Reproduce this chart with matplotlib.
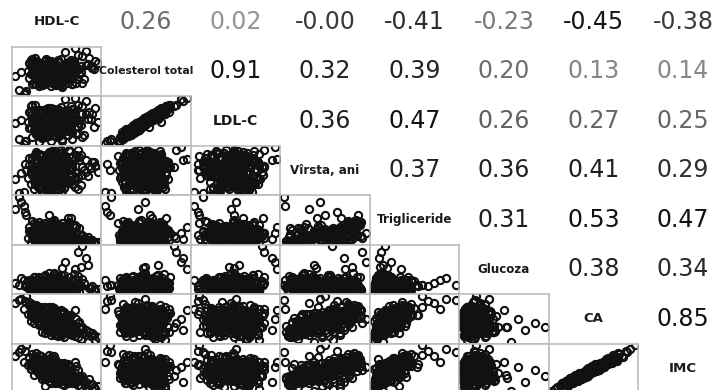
# Scatterplot matrix: lower panels show scatter, upper panels the correlation coefficients.

import matplotlib
matplotlib.use('Agg')
import matplotlib.pyplot as plt

# Variable names (diagonal)
labels = ['HDL-C', 'Colesterol total', 'LDL-C', 'Vîrsta, ani',
          'Trigliceride', 'Glucoza', 'CA', 'IMC']

# Subject values, one list per variable
hdl = [48, 55, 41, 62, 50, 37, 58, 45, 53, 67, 43, 51, 39, 60, 47, 56, 34, 52, 64, 46,
       49, 42, 57, 38, 54, 61, 44, 50, 72, 40, 53, 47, 59, 36, 51, 45, 63, 48, 41, 55,
       52, 46, 39, 58, 44, 66, 50, 35, 54, 48, 43, 60, 49, 57, 38, 53, 45, 70, 42, 51,
       47, 56, 40, 62, 49, 44, 55, 37, 52, 68, 46, 41, 58, 50, 33, 54, 48, 61, 43, 57,
       45, 51, 59, 39, 65, 47, 53, 42, 56, 48, 36, 60, 44, 50, 74, 41, 55, 46, 52, 63,
       38, 49, 57, 43, 51, 46, 69, 40, 54, 47, 58, 35, 52, 45, 61, 49, 42, 56, 48, 53,
       82, 79, 76, 70, 77, 24, 28, 31, 74, 64, 30, 80, 68, 27, 75, 66, 71, 32, 78, 59,
       53, 44, 59, 48, 37, 62, 51, 46, 56, 40, 66, 49, 43, 57, 52, 35, 61, 47, 54, 45,
       50, 58, 42, 64, 47, 39, 55, 52, 45, 69, 41, 53, 60, 46, 36, 57, 50, 43, 63, 48,
       56, 41, 49, 65, 44, 53, 38, 59, 47, 51, 62, 45, 34, 55, 48, 67, 43, 52, 58, 40,
       46, 60, 52, 39, 57, 48, 71, 44, 54, 42, 50, 63, 37, 56, 45, 53, 61, 49, 41, 58,
       42, 55, 47, 61, 36, 50, 58, 45, 64, 52, 40, 57, 48, 54, 66, 43, 51, 38, 59, 46,
       59, 47, 53, 41, 68, 50, 44, 56, 39, 62, 48, 54, 45, 60, 35, 52, 57, 42, 49, 64]
chol = [196, 231, 178, 205, 248, 214, 187, 260, 222, 170, 239, 201, 226, 183, 255, 209, 192, 244, 165, 218,
        236, 190, 212, 271, 174, 228, 203, 249, 185, 219, 160, 242, 198, 230, 207, 181, 263, 216, 194, 225,
        210, 247, 168, 233, 199, 222, 186, 258, 213, 176, 240, 204, 229, 155, 251, 189, 217, 237, 172, 206,
        224, 182, 253, 197, 215, 241, 163, 232, 208, 188, 266, 201, 179, 246, 220, 193, 227, 170, 238, 211,
        202, 244, 184, 219, 257, 175, 234, 196, 212, 250, 167, 229, 191, 221, 243, 180, 209, 262, 200, 226,
        188, 235, 214, 169, 248, 205, 227, 178, 256, 198, 218, 240, 183, 211, 231, 159, 245, 203, 223, 192,
        250, 225, 270, 215, 240, 200, 215, 130, 300, 235, 125, 260, 285, 140, 245, 310, 280, 138, 230, 295,
        223, 187, 241, 205, 172, 256, 198, 214, 235, 181, 247, 209, 164, 228, 193, 262, 217, 176, 239, 202,
        185, 230, 211, 167, 252, 196, 226, 180, 244, 207, 158, 234, 219, 190, 268, 203, 174, 248, 215, 188,
        240, 199, 173, 227, 212, 184, 258, 201, 233, 166, 220, 195, 249, 178, 213, 236, 161, 206, 245, 191,
        208, 251, 179, 222, 194, 238, 171, 216, 264, 186, 229, 200, 243, 169, 211, 232, 192, 254, 177, 218,
        197, 225, 246, 182, 210, 170, 237, 204, 255, 189, 221, 163, 242, 199, 231, 175, 214, 260, 195, 227,
        233, 176, 212, 250, 188, 224, 203, 266, 181, 217, 196, 240, 168, 228, 207, 245, 184, 219, 257, 193]
ldl = [126, 149, 114, 128, 160, 154, 114, 169, 154, 95, 155, 139, 147, 112, 169, 143, 118, 154, 102, 138,
       158, 125, 125, 199, 113, 145, 127, 180, 93, 152, 86, 157, 135, 151, 137, 93, 197, 135, 121, 149,
       142, 163, 96, 171, 109, 147, 120, 178, 142, 89, 176, 126, 160, 72, 178, 128, 131, 167, 95, 141,
       143, 115, 179, 108, 152, 164, 93, 147, 136, 122, 187, 110, 115, 171, 138, 124, 140, 108, 162, 140,
       129, 158, 119, 139, 187, 99, 146, 134, 134, 182, 84, 158, 101, 157, 169, 95, 142, 183, 128, 142,
       122, 156, 143, 84, 185, 131, 145, 109, 179, 110, 157, 165, 116, 131, 159, 73, 181, 125, 153, 109,
       140, 120, 175, 130, 150, 135, 145, 70, 215, 155, 62, 190, 200, 80, 150, 225, 196, 72, 168, 222,
       151, 122, 157, 128, 111, 166, 128, 135, 167, 95, 173, 146, 83, 153, 105, 195, 134, 105, 161, 138,
       105, 161, 135, 80, 190, 123, 141, 114, 165, 136, 69, 170, 144, 108, 200, 112, 111, 171, 145, 104,
       173, 116, 99, 165, 124, 113, 180, 136, 147, 93, 140, 126, 173, 88, 149, 155, 89, 121, 179, 112,
       133, 183, 92, 159, 115, 168, 87, 150, 187, 95, 167, 127, 162, 100, 125, 168, 114, 182, 88, 151,
       127, 143, 180, 94, 136, 109, 158, 119, 187, 113, 158, 80, 171, 112, 166, 97, 141, 180, 133, 141,
       149, 109, 137, 179, 99, 161, 123, 192, 95, 148, 119, 175, 86, 156, 117, 179, 105, 146, 189, 108]
varsta = [45, 63, 31, 52, 70, 38, 57, 26, 66, 48, 35, 74, 42, 59, 29, 54, 68, 40, 61, 33,
          50, 72, 37, 56, 24, 65, 44, 78, 53, 30, 62, 47, 39, 69, 55, 27, 46, 73, 58, 36,
          67, 41, 55, 28, 60, 49, 76, 34, 51, 64, 23, 57, 43, 71, 38, 62, 46, 32, 58, 75,
          39, 54, 66, 47, 25, 60, 36, 71, 50, 43, 63, 30, 56, 68, 41, 52, 77, 35, 59, 45,
          61, 33, 48, 74, 40, 57, 27, 64, 44, 53, 69, 37, 58, 31, 50, 72, 42, 65, 29, 55,
          47, 70, 35, 59, 52, 26, 66, 44, 38, 61, 73, 49, 32, 56, 64, 41, 54, 79, 36, 60,
          50, 63, 58, 72, 55, 40, 48, 61, 66, 70, 22, 58, 80, 21, 44, 67, 57, 52, 63, 83,
          58, 34, 71, 46, 27, 63, 52, 39, 75, 44, 30, 67, 55, 41, 78, 49, 36, 60, 25, 69,
          43, 65, 32, 56, 74, 38, 61, 47, 28, 70, 53, 35, 66, 42, 58, 24, 76, 50, 37, 62,
          29, 54, 72, 40, 64, 48, 33, 68, 57, 45, 79, 31, 59, 51, 26, 73, 44, 61, 36, 55,
          66, 41, 53, 77, 35, 58, 46, 23, 62, 50, 71, 39, 56, 30, 68, 47, 59, 34, 74, 43,
          52, 76, 38, 60, 45, 28, 67, 54, 33, 70, 48, 63, 25, 57, 42, 73, 36, 65, 51, 31,
          37, 61, 49, 72, 26, 56, 64, 40, 53, 78, 32, 58, 45, 69, 50, 35, 75, 43, 60, 47]
trig = [110, 145, 82, 175, 230, 96, 128, 190, 74, 155, 120, 260, 102, 168, 88, 138, 205, 115, 92, 182,
        125, 210, 98, 152, 68, 185, 134, 245, 106, 160, 79, 118, 198, 142, 90, 172, 285, 112, 148, 86,
        195, 104, 163, 76, 140, 222, 118, 170, 93, 131, 72, 178, 150, 240, 100, 136, 188, 80, 158, 270,
        122, 166, 87, 201, 64, 147, 113, 236, 129, 97, 173, 84, 159, 218, 107, 143, 310, 95, 180, 133,
        154, 78, 124, 208, 101, 186, 70, 139, 165, 116, 255, 89, 192, 127, 84, 226, 108, 176, 99, 144,
        213, 120, 149, 91, 187, 135, 81, 171, 228, 109, 157, 66, 196, 126, 290, 94, 168, 119, 203, 141,
        70, 60, 85, 95, 75, 370, 430, 340, 90, 80, 400, 65, 100, 480, 110, 200, 120, 310, 85, 150,
        132, 98, 176, 118, 84, 204, 145, 107, 189, 126, 73, 162, 139, 95, 221, 151, 88, 171, 112, 243,
        117, 184, 91, 158, 226, 103, 167, 136, 78, 197, 128, 99, 179, 114, 153, 71, 238, 142, 96, 173,
        86, 149, 214, 121, 168, 133, 94, 191, 156, 111, 252, 82, 163, 137, 69, 206, 124, 177, 101, 146,
        181, 109, 141, 233, 92, 160, 127, 75, 172, 143, 219, 105, 154, 88, 199, 131, 165, 97, 246, 119,
        140, 216, 102, 174, 123, 80, 186, 150, 90, 208, 134, 169, 77, 157, 115, 229, 100, 183, 138, 87,
        106, 166, 144, 224, 74, 152, 193, 113, 129, 237, 93, 161, 120, 200, 135, 83, 211, 116, 178, 148]
glucoza = [88, 104, 97, 83, 112, 91, 86, 99, 118, 94, 81, 107, 92, 101, 87, 125, 95, 89, 110, 84,
           100, 86, 93, 121, 82, 96, 108, 90, 103, 85, 116, 98, 80, 94, 111, 87, 99, 129, 92, 105,
           91, 113, 84, 98, 102, 88, 120, 95, 81, 106, 93, 87, 114, 99, 85, 101, 90, 97, 83, 109,
           104, 89, 117, 92, 86, 100, 83, 107, 94, 122, 88, 96, 101, 84, 91, 110, 98, 86, 93, 143,
           85, 98, 90, 106, 127, 93, 87, 102, 96, 81, 113, 89, 95, 104, 82, 99, 119, 91, 100, 88,
           97, 83, 108, 94, 89, 115, 101, 86, 92, 104, 80, 99, 87, 124, 95, 90, 103, 85, 111, 96,
           88, 85, 92, 145, 90, 105, 118, 96, 170, 94, 112, 86, 185, 98, 150, 140, 200, 100, 96, 160,
           93, 107, 85, 100, 119, 90, 97, 82, 104, 88, 114, 95, 86, 101, 91, 109, 84, 98, 123, 89,
           102, 87, 95, 113, 84, 99, 91, 106, 80, 96, 88, 117, 93, 85, 104, 97, 90, 110, 83, 100,
           89, 121, 94, 86, 103, 98, 81, 108, 92, 100, 85, 96, 112, 88, 105, 83, 99, 91, 126, 94,
           96, 84, 110, 91, 99, 87, 115, 93, 82, 105, 90, 101, 86, 97, 120, 89, 94, 107, 85, 102,
           108, 92, 86, 101, 95, 118, 84, 98, 90, 106, 83, 113, 97, 88, 100, 93, 131, 87, 104, 91,
           86, 99, 105, 90, 112, 84, 96, 102, 88, 119, 93, 81, 107, 95, 89, 124, 98, 92, 83, 109]
ca = [97, 82, 90, 98, 100, 103, 82, 76, 97, 78, 102, 103, 100, 78, 97, 86, 119, 74, 89, 92,
      88, 112, 79, 104, 72, 95, 99, 110, 76, 93, 87, 96, 90, 114, 85, 92, 101, 100, 106, 80,
      103, 89, 108, 71, 101, 86, 105, 100, 84, 98, 78, 94, 91, 107, 95, 93, 97, 68, 109, 111,
      90, 92, 106, 88, 74, 102, 83, 113, 91, 77, 104, 87, 94, 105, 102, 89, 112, 79, 107, 85,
      101, 80, 87, 115, 79, 99, 75, 104, 90, 93, 116, 81, 103, 84, 73, 111, 86, 100, 82, 89,
      112, 98, 76, 100, 96, 80, 84, 104, 90, 97, 106, 93, 85, 95, 101, 78, 103, 108, 87, 94,
      70, 74, 78, 85, 72, 118, 124, 121, 80, 88, 110, 66, 90, 122, 64, 108, 84, 128, 76, 96,
      96, 88, 99, 92, 90, 94, 95, 87, 104, 97, 72, 103, 100, 84, 108, 101, 76, 99, 78, 112,
      89, 98, 91, 86, 109, 96, 97, 90, 83, 92, 102, 79, 94, 93, 110, 74, 113, 95, 75, 100,
      77, 103, 106, 80, 107, 90, 98, 93, 101, 88, 100, 89, 115, 91, 79, 95, 99, 96, 78, 108,
      105, 82, 93, 114, 81, 99, 76, 86, 97, 100, 104, 79, 108, 80, 107, 91, 92, 87, 111, 83,
      102, 97, 90, 91, 104, 81, 94, 98, 73, 101, 100, 95, 82, 92, 78, 109, 85, 112, 86, 89,
      80, 99, 92, 110, 71, 94, 103, 85, 101, 97, 87, 93, 96, 95, 106, 84, 102, 98, 91, 82]
imc = [29.8, 23.1, 26.9, 27.4, 30.5, 30.1, 25.6, 21.0, 28.8, 24.1, 28.8, 31.0, 28.7, 22.8, 30.4, 24.7, 33.8, 22.2, 25.9, 28.0,
       25.1, 34.3, 23.4, 29.5, 22.3, 27.4, 30.1, 31.2, 22.4, 27.2, 26.8, 27.4, 27.1, 32.1, 25.1, 28.6, 29.4, 30.4, 30.4, 23.8,
       31.3, 24.8, 32.2, 21.5, 29.0, 26.7, 30.6, 30.2, 22.9, 29.2, 23.9, 27.4, 27.5, 30.6, 29.7, 26.6, 29.0, 20.5, 30.9, 34.0,
       26.8, 26.0, 32.7, 25.5, 22.2, 28.6, 25.3, 32.9, 26.9, 24.0, 29.8, 26.0, 26.4, 31.8, 30.2, 25.7, 34.6, 22.2, 32.0, 25.9,
       28.7, 24.0, 25.1, 35.4, 23.5, 28.3, 23.3, 29.4, 27.2, 27.1, 35.1, 24.7, 29.7, 24.8, 20.6, 34.6, 23.8, 29.8, 24.8, 25.5,
       33.8, 27.7, 23.1, 29.9, 27.5, 24.7, 24.2, 31.6, 24.9, 29.1, 30.8, 28.5, 25.0, 27.0, 30.5, 24.3, 30.0, 30.9, 26.3, 27.4,
       20.7, 20.6, 23.8, 24.5, 21.7, 33.9, 37.0, 36.5, 22.8, 26.0, 31.6, 19.7, 27.9, 36.0, 18.6, 31.4, 25.3, 38.8, 21.8, 29.3,
       29.1, 24.6, 29.5, 28.5, 25.8, 26.6, 29.1, 25.9, 29.3, 29.2, 22.1, 29.6, 29.8, 24.2, 32.9, 28.2, 23.1, 28.7, 24.4, 32.5,
       25.7, 30.1, 25.6, 25.9, 31.4, 29.9, 28.4, 26.9, 25.5, 25.5, 30.2, 23.9, 26.9, 28.7, 31.4, 21.7, 34.1, 27.0, 22.9, 29.3,
       23.4, 29.8, 31.8, 22.0, 33.2, 26.2, 28.0, 28.0, 31.0, 24.4, 29.9, 27.2, 33.4, 27.2, 22.9, 29.6, 28.1, 29.1, 23.3, 31.0,
       30.6, 24.8, 28.7, 32.6, 23.8, 28.5, 23.4, 24.8, 29.4, 28.1, 31.3, 24.0, 31.1, 25.0, 31.4, 27.1, 25.9, 26.7, 32.3, 24.3,
       30.8, 27.3, 26.9, 27.8, 29.9, 25.0, 27.4, 27.9, 22.0, 30.1, 28.0, 28.6, 25.1, 26.5, 23.1, 31.4, 26.4, 32.8, 24.1, 26.9,
       24.6, 28.5, 27.2, 31.6, 21.3, 29.1, 29.2, 25.3, 29.3, 29.7, 24.6, 27.9, 26.9, 28.9, 31.2, 25.7, 29.5, 29.2, 28.3, 23.1]
columns = [hdl, chol, ldl, varsta, trig, glucoza, ca, imc]

# Correlation coefficients printed in the upper panels (row i, columns i+1..)
corr = [
    [0.26, 0.02, -0.0, -0.41, -0.23, -0.45, -0.38],
    [0.91, 0.32, 0.39, 0.20, 0.13, 0.14],
    [0.36, 0.47, 0.26, 0.27, 0.25],
    [0.37, 0.36, 0.41, 0.29],
    [0.31, 0.53, 0.47],
    [0.38, 0.34],
    [0.85],
]

# text shade of each coefficient (style only)
shade = [
    ['#6a6a6a', '#959595', '#3a3a3a', '#2e2e2e', '#7a7a7a', '#151515', '#3c3c3c'],
    ['#111111', '#222222', '#222222', '#6e6e6e', '#858585', '#888888'],
    ['#1e1e1e', '#111111', '#606060', '#666666', '#666666'],
    ['#222222', '#222222', '#1e1e1e', '#2e2e2e'],
    ['#1e1e1e', '#111111', '#111111'],
    ['#222222', '#2a2a2a'],
    ['#111111'],
]
label_sizes = [9.6, 7.8, 10, 8.6, 8.6, 8.6, 9.5, 9.6]

W, H = 718, 390
cell_w, cell_h = 89.5, 49.5
x0, y0 = 11.7, -3.0

fig = plt.figure(figsize=(W / 100, H / 100), dpi=100)
n = len(labels)


def padded(v):
    lo, hi = min(v), max(v)
    pad = 0.04 * (hi - lo)
    return lo - pad, hi + pad


for i in range(n):
    for j in range(n):
        left = (x0 + j * cell_w) / W
        bottom = 1 - (y0 + (i + 1) * cell_h) / H
        ax = fig.add_axes([left, bottom, cell_w / W, cell_h / H])
        ax.set_xticks([])
        ax.set_yticks([])
        if i > j:
            ax.plot(columns[j], columns[i], linestyle='none', marker='o',
                    markersize=5.2, markerfacecolor='none',
                    markeredgecolor='#111111', markeredgewidth=1.5)
            ax.set_xlim(padded(columns[j]))
            ax.set_ylim(padded(columns[i]))
            for s in ax.spines.values():
                s.set_color('#b8b8b8')
                s.set_linewidth(1.1)
        else:
            ax.axis('off')
            if i == j:
                ax.text(0.5, 0.5, labels[i], ha='center', va='center',
                        fontsize=label_sizes[i], fontweight='bold', color='#1a1a1a',
                        transform=ax.transAxes)
            else:
                r = corr[i][j - i - 1]
                ax.text(0.5, 0.5, f'{r:.2f}', ha='center', va='center',
                        fontsize=17, color=shade[i][j - i - 1],
                        transform=ax.transAxes)

fig.savefig('out.png', dpi=100)
